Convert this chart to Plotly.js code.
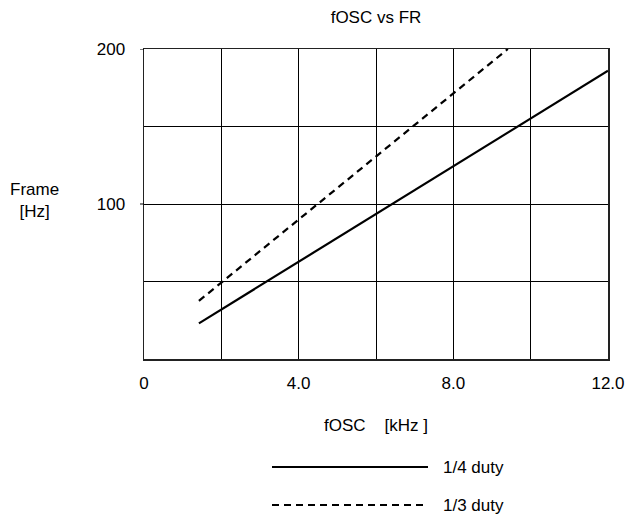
<!DOCTYPE html>
<html>
<head>
<meta charset="utf-8">
<script src="https://cdn.plot.ly/plotly-3.0.1.min.js"></script>
<style>html,body{margin:0;padding:0;background:#fff;}#chart{width:630px;height:519px;}</style>
</head>
<body>
<div id="chart"></div>
<script>
// Data
const quarterDutyX = [1.42, 12.0];
const quarterDutyY = [23, 186];
const thirdDutyX = [1.42, 9.41];
const thirdDutyY = [37.5, 200];
const seriesNames = ['1/4 duty', '1/3 duty'];
const xTickVals = [0, 2, 4, 6, 8, 10, 12];
const xTickText = ['0', '', '4.0', '', '8.0', '', '12.0'];
const yTickVals = [0, 50, 100, 150, 200];
const yTickText = ['', '', '100', '', '200'];

const FONT = 'Arial, "Liberation Sans", sans-serif';
const fs = 17;

const traces = [
  {x: quarterDutyX, y: quarterDutyY, mode: 'lines', name: seriesNames[0],
   line: {color: '#000', width: 2.2}, showlegend: false, hoverinfo: 'skip'},
  {x: thirdDutyX, y: thirdDutyY, mode: 'lines', name: seriesNames[1],
   line: {color: '#000', width: 2.2, dash: '7px,5px'}, showlegend: false, hoverinfo: 'skip'}
];

const W = 630, H = 519, L = 144, R = 22, T = 49, B = 160;
const pw = W - L - R, ph = H - T - B;
const px = v => (v - L) / pw;
const py = v => (H - B - v) / ph;

const layout = {
  width: W, height: H,
  margin: {l: L, r: R, t: T, b: B},
  paper_bgcolor: '#fff', plot_bgcolor: '#fff',
  font: {family: FONT, size: fs, color: '#000'},
  title: {text: 'fOSC vs FR', font: {family: FONT, size: fs, color: '#000'},
          x: 0.5, xref: 'paper', y: 1 - 17 / H, yref: 'container', yanchor: 'middle'},
  xaxis: {range: [0, 12], tickvals: xTickVals, ticktext: xTickText,
          showgrid: true, gridcolor: '#000', gridwidth: 1,
          showline: true, linecolor: '#222', linewidth: 1.5, mirror: true,
          zeroline: false, ticks: '', ticklabelstandoff: 8, fixedrange: true},
  yaxis: {range: [0, 200], tickvals: yTickVals, ticktext: yTickText,
          showgrid: true, gridcolor: '#000', gridwidth: 1,
          showline: true, linecolor: '#222', linewidth: 1.5, mirror: true,
          zeroline: false, ticks: '', ticklabelstandoff: 14, fixedrange: true},
  annotations: [
    {text: 'Frame<br>[Hz]', xref: 'paper', yref: 'paper', x: px(34), y: py(200),
     xanchor: 'center', yanchor: 'middle', showarrow: false, align: 'center',
     font: {family: FONT, size: fs, color: '#000'}},
    {text: 'fOSC&nbsp;&nbsp;&nbsp;&nbsp;[kHz ]', xref: 'paper', yref: 'paper', x: px(376), y: py(425),
     xanchor: 'center', yanchor: 'middle', showarrow: false,
     font: {family: FONT, size: fs, color: '#000'}},
    {text: seriesNames[0], xref: 'paper', yref: 'paper', x: px(441), y: py(467),
     xanchor: 'left', yanchor: 'middle', showarrow: false,
     font: {family: FONT, size: fs, color: '#000'}},
    {text: seriesNames[1], xref: 'paper', yref: 'paper', x: px(441), y: py(505),
     xanchor: 'left', yanchor: 'middle', showarrow: false,
     font: {family: FONT, size: fs, color: '#000'}}
  ],
  shapes: [
    {type: 'line', xref: 'paper', yref: 'paper', x0: px(272), x1: px(428), y0: py(467), y1: py(467),
     line: {color: '#000', width: 2.2}},
    {type: 'line', xref: 'paper', yref: 'paper', x0: px(272), x1: px(426), y0: py(505), y1: py(505),
     line: {color: '#000', width: 2, dash: '7px,5px'}},
    {type: 'line', xref: 'paper', yref: 'y', x0: px(140), x1: 0, y0: 100, y1: 100,
     line: {color: '#000', width: 1}},
    {type: 'line', xref: 'paper', yref: 'y', x0: px(140), x1: 0, y0: 200, y1: 200,
     line: {color: '#000', width: 1}}
  ]
};

Plotly.newPlot('chart', traces, layout, {displayModeBar: false, staticPlot: true});
</script>
</body>
</html>
